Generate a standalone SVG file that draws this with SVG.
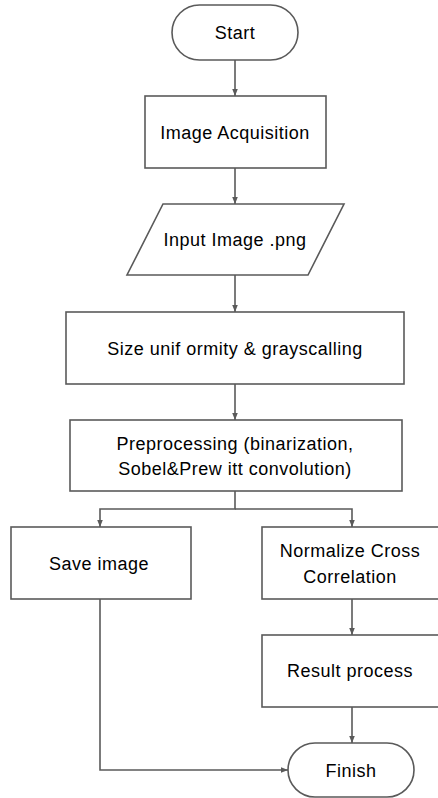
<svg xmlns="http://www.w3.org/2000/svg" width="438" height="798" viewBox="0 0 438 798">
<style>
.n{fill:#fff;stroke:#5a5a5a;stroke-width:1.6}
.t{font-family:"Liberation Sans",Arial,sans-serif;font-size:18px;letter-spacing:0.5px;fill:#000;text-anchor:middle}
.c{fill:none;stroke:#5a5a5a;stroke-width:1.6}
</style>
<defs>
<marker id="ah" markerUnits="userSpaceOnUse" markerWidth="8" markerHeight="8" viewBox="0 0 8 8" refX="7" refY="4" orient="auto">
<path d="M0,1.2 L7,4 L0,6.8 Z" fill="#5a5a5a"/>
</marker>
</defs>
<rect width="438" height="798" fill="#fff"/>
<g id="connectors">
<line class="c" x1="235" y1="60" x2="235" y2="96" marker-end="url(#ah)"/>
<line class="c" x1="235" y1="168" x2="235" y2="204" marker-end="url(#ah)"/>
<line class="c" x1="235" y1="275" x2="235" y2="312" marker-end="url(#ah)"/>
<line class="c" x1="235" y1="384" x2="235" y2="420" marker-end="url(#ah)"/>
<polyline class="c" points="235,491 235,509 100,509 100,527" marker-end="url(#ah)"/>
<polyline class="c" points="235,509 352,509 352,527" marker-end="url(#ah)"/>
<line class="c" x1="352" y1="599" x2="352" y2="635" marker-end="url(#ah)"/>
<line class="c" x1="352" y1="707" x2="352" y2="743" marker-end="url(#ah)"/>
<polyline class="c" points="100,599 100,770 288,770" marker-end="url(#ah)"/>
</g>
<g id="start">
<rect class="n" x="172" y="5" width="126" height="55" rx="27.5"/>
<text class="t" x="235" y="39">Start</text>
</g>
<g id="acquisition">
<rect class="n" x="145" y="96" width="181" height="72"/>
<text class="t" x="235" y="138.5">Image Acquisition</text>
</g>
<g id="input">
<polygon class="n" points="163,204 344,204 308,275 127,275"/>
<text class="t" x="235" y="246">Input Image .png</text>
</g>
<g id="size">
<rect class="n" x="66" y="312" width="338" height="72"/>
<text class="t" x="235" y="354.5">Size unif ormity &amp; grayscalling</text>
</g>
<g id="preprocessing">
<rect class="n" x="70" y="420" width="332" height="71"/>
<text class="t" x="235" y="450">Preprocessing (binarization,</text>
<text class="t" x="235" y="475">Sobel&amp;Prew itt convolution)</text>
</g>
<g id="save">
<rect class="n" x="11" y="527" width="180" height="72"/>
<text class="t" x="99" y="569.5">Save image</text>
</g>
<g id="ncc">
<rect class="n" x="262" y="527" width="180" height="72"/>
<text class="t" x="350" y="557">Normalize Cross</text>
<text class="t" x="350" y="583">Correlation</text>
</g>
<g id="result">
<rect class="n" x="262" y="635" width="180" height="72"/>
<text class="t" x="350" y="677">Result process</text>
</g>
<g id="finish">
<rect class="n" x="288" y="743" width="126" height="54" rx="27"/>
<text class="t" x="351" y="776.5">Finish</text>
</g>
</svg>
